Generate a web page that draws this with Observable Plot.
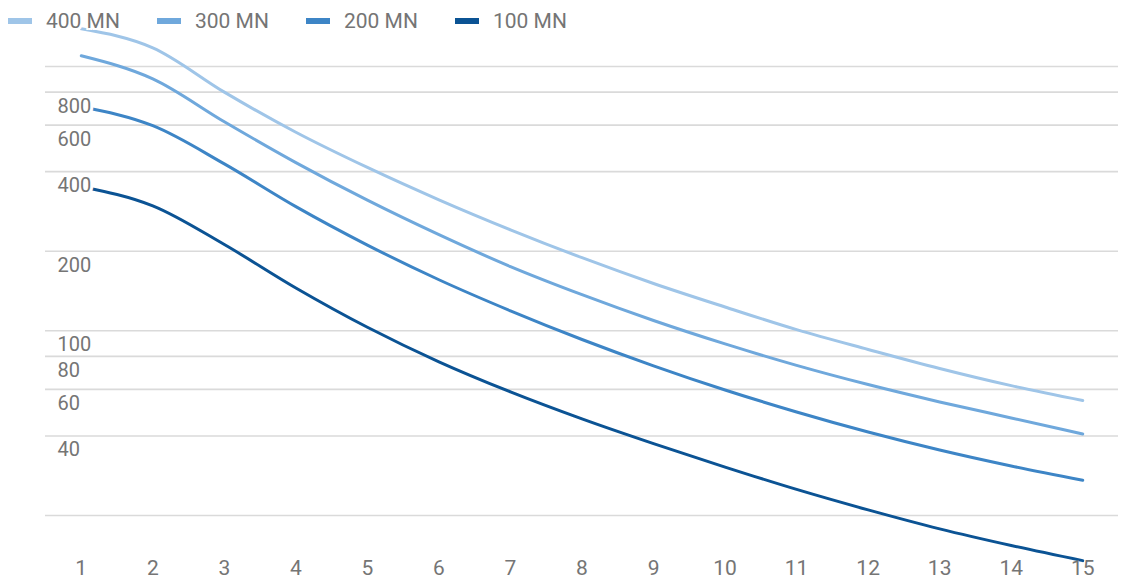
<!DOCTYPE html>
<html>
<head>
<meta charset="utf-8">
<script src="https://cdn.jsdelivr.net/npm/d3@7"></script>
<script src="https://cdn.jsdelivr.net/npm/@observablehq/plot@0.6"></script>
<style>
  html, body { margin: 0; padding: 0; background: #fff; }
  #wrap { position: relative; width: 1136px; height: 579px; overflow: hidden; font-family: Roboto, "Noto Sans", sans-serif; }
  #chart { position: absolute; left: 0; top: 0; }
  #legend { position: absolute; left: 0; top: 8px; display: flex; z-index: 2; }
  .item { display: flex; align-items: center; width: 149px; height: 26px; }
  .sw { width: 24px; height: 6px; margin-left: 8px; margin-right: 14px; }
  .lab { font-size: 21px; color: #757575; white-space: nowrap;
         text-shadow: 2px 0 #fff, -2px 0 #fff, 0 2px #fff, 0 -2px #fff, 2px 2px #fff, -2px -2px #fff, 2px -2px #fff, -2px 2px #fff; }
</style>
</head>
<body>
<div id="wrap">
  <div id="chart"></div>
  <div id="legend"></div>
</div>
<script>
// ---- data ----
const xValues = [1, 2, 3, 4, 5, 6, 7, 8, 9, 10, 11, 12, 13, 14, 15];
const seriesNames = ["400 MN", "300 MN", "200 MN", "100 MN"];
const seriesColors = ["#9fc5e8", "#6fa8dc", "#3d85c6", "#0b5394"];
const s400 = [1389, 1177, 800, 564, 415, 313, 241, 189, 151, 123, 101, 85, 72, 62, 54.5];
const s300 = [1098, 898, 618, 433, 312, 231, 175, 137, 109.4, 89.2, 74.0, 62.6, 53.8, 46.8, 40.7];
const s200 = [704, 597, 428, 295, 211, 156, 119, 92.7, 73.7, 59.7, 49.3, 41.4, 35.4, 30.8, 27.2];
const s100 = [351, 297, 212, 145.2, 103.1, 76.3, 58.7, 46.4, 37.4, 30.5, 25.1, 21.0, 17.8, 15.4, 13.5];
const gridValues = [20, 40, 60, 80, 100, 200, 400, 600, 800, 1000];
const yTickLabels = [40, 60, 80, 100, 200, 400, 600, 800];
const xTickLabels = xValues;

// ---- build table ----
const allSeries = [s400, s300, s200, s100];
const rows = [];
seriesNames.forEach((name, si) => {
  xValues.forEach((x, i) => rows.push({series: name, x, y: allSeries[si][i]}));
});

const gray = "#757575";
const chart = Plot.plot({
  width: 1136,
  height: 579,
  marginLeft: 45,
  marginRight: 18,
  marginTop: 66,
  marginBottom: 64,
  style: {fontFamily: "Roboto, 'Noto Sans', sans-serif", background: "transparent", overflow: "visible"},
  x: {domain: [0.5, 15.5], axis: null},
  y: {type: "log", domain: [20, 1000], axis: null},
  color: {domain: seriesNames, range: seriesColors},
  marks: [
    Plot.ruleY(gridValues, {stroke: "#dadada", strokeWidth: 1.6}),
    Plot.line(rows, {x: "x", y: "y", z: "series", stroke: "series", strokeWidth: 3, curve: "monotone-x"}),
    Plot.text(yTickLabels, {
      y: d => d, frameAnchor: "left", dx: 12, dy: 14, textAnchor: "start",
      text: d => String(d), fontSize: 20, fill: gray,
      stroke: "white", strokeWidth: 6, paintOrder: "stroke"
    }),
    Plot.axisX(xTickLabels, {
      tickSize: 0, tickPadding: 45, fontSize: 21, color: gray, label: null,
      tickFormat: d => String(d)
    })
  ]
});
document.getElementById("chart").appendChild(chart);

// ---- legend ----
const legend = document.getElementById("legend");
seriesNames.forEach((name, i) => {
  const item = document.createElement("div");
  item.className = "item";
  const sw = document.createElement("div");
  sw.className = "sw";
  sw.style.background = seriesColors[i];
  const lab = document.createElement("span");
  lab.className = "lab";
  lab.textContent = name;
  item.appendChild(sw);
  item.appendChild(lab);
  legend.appendChild(item);
});
</script>
</body>
</html>
